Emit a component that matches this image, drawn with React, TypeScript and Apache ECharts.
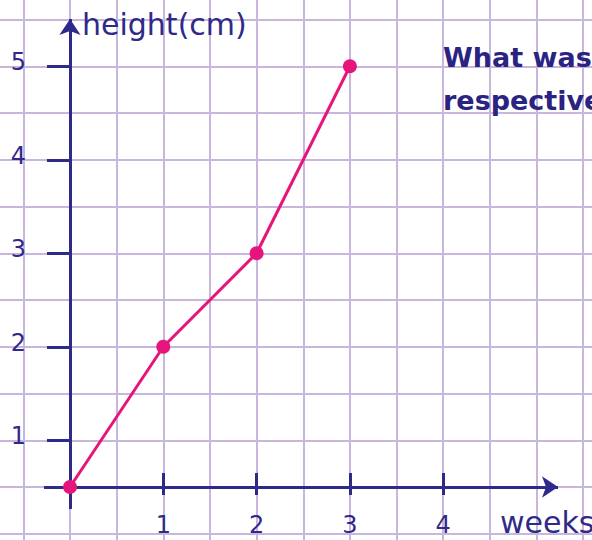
import React, { useEffect, useRef } from "react";
import * as echarts from "echarts";

// ---- data ----
const weeks = [0, 1, 2, 3];
const heights = [0.5, 2, 3, 5];
const xTickValues = [1, 2, 3, 4];
const yTickValues = [1, 2, 3, 4, 5];
const xAxisName = "weeks";
const yAxisName = "height(cm)";
const titleLines = ["What was", "respective"];

// ---- layout / style ----
const W = 592;
const H = 540;
const ORIGIN_X = 70; // pixel of x = 0
const X_UNIT = 93.3;
const Y_HALF_PX = 487; // pixel of y = 0.5 (where the x axis is drawn)
const Y_UNIT = 93.5;
const Y_ZERO_PX = Y_HALF_PX + 0.5 * Y_UNIT;
const X_AXIS_PX = 473; // top of the x tick marks

const xMin = -ORIGIN_X / X_UNIT;
const xMax = (W - ORIGIN_X) / X_UNIT;
const yMin = -(H - Y_ZERO_PX) / Y_UNIT;
const yMax = Y_ZERO_PX / Y_UNIT;
const px2x = (px: number) => (px - ORIGIN_X) / X_UNIT;
const px2y = (py: number) => (Y_ZERO_PX - py) / Y_UNIT;

const GRID = "#c9b6dd";
const AXIS = "#2f2a8a";
const TEXT = "#2f2a8a";
const TITLE = "#2a2382";
const MAGENTA = "#e6157b";
const FONT = "DejaVu Sans";

export default function App() {
  const ref = useRef<HTMLDivElement>(null);

  useEffect(() => {
    if (!ref.current) return;
    const chart = echarts.init(ref.current, undefined, { renderer: "svg" });

    const vLines: any[] = [];
    for (let i = -1; i <= 11; i++) vLines.push({ xAxis: i / 2 });
    const hLines: any[] = [];
    for (let i = 0; i <= 11; i++) hLines.push({ yAxis: i / 2 });

    const option: any = {
      animation: false,
      backgroundColor: "#ffffff",
      title: {
        text: titleLines.join("\n"),
        left: 443,
        top: 36,
        padding: 0,
        textStyle: {
          fontFamily: FONT,
          fontWeight: "bold",
          fontSize: 27,
          lineHeight: 43,
          color: TITLE,
        },
      },
      grid: {
        left: 0,
        right: 0,
        top: 0,
        bottom: 0,
        containLabel: false,
        outerBoundsMode: "none",
      },
      xAxis: {
        type: "value",
        z: 4,
        min: xMin,
        max: xMax,
        offset: -(H - X_AXIS_PX),
        axisLine: { show: false, onZero: false, lineStyle: { color: AXIS, width: 3 } },
        splitLine: { show: false },
        axisTick: {
          show: true,
          customValues: xTickValues,
          length: 22,
          lineStyle: { color: AXIS, width: 3 },
        },
        axisLabel: {
          show: true,
          customValues: xTickValues,
          margin: 40,
          fontSize: 24,
          fontFamily: FONT,
          color: TEXT,
        },
        name: xAxisName,
        nameLocation: "end",
        nameGap: -92,
        nameMoveOverlap: false,
        nameTextStyle: {
          fontFamily: FONT,
          fontSize: 30,
          color: TEXT,
          align: "left",
          verticalAlign: "top",
          lineHeight: 98,
        },
      },
      yAxis: {
        type: "value",
        z: 4,
        min: yMin,
        max: yMax,
        offset: -ORIGIN_X,
        axisLine: { show: false, onZero: false, lineStyle: { color: AXIS, width: 3 } },
        splitLine: { show: false },
        axisTick: {
          show: true,
          customValues: yTickValues,
          length: 23,
          lineStyle: { color: AXIS, width: 3 },
        },
        axisLabel: {
          show: true,
          customValues: yTickValues,
          margin: 44,
          fontSize: 24,
          fontFamily: FONT,
          color: TEXT,
          verticalAlign: "bottom",
          lineHeight: 8,
        },
        name: yAxisName,
        nameLocation: "end",
        nameGap: -24,
        nameMoveOverlap: false,
        nameTextStyle: {
          fontFamily: FONT,
          fontSize: 30,
          color: TEXT,
          align: "left",
          verticalAlign: "middle",
          padding: [0, 0, 0, 12],
        },
      },
      series: [
        {
          name: "grid",
          type: "line",
          data: [],
          silent: true,
          z: 1,
          markLine: {
            silent: true,
            z: 1,
            symbol: "none",
            label: { show: false },
            emphasis: { disabled: true },
            lineStyle: { color: GRID, width: 2, type: "solid" },
            data: [...vLines, ...hLines],
          },
        },
        {
          name: "axes",
          type: "line",
          data: [],
          silent: true,
          z: 3,
          markLine: {
            silent: true,
            z: 3,
            label: { show: false },
            emphasis: { disabled: true },
            lineStyle: { color: AXIS, width: 3, type: "solid" },
            data: [
              [
                { coord: [px2x(44), 0.5], symbol: "none" },
                { coord: [px2x(558), 0.5], symbol: "arrow", symbolSize: 16 },
              ],
              [
                { coord: [0, px2y(509)], symbol: "none" },
                { coord: [0, px2y(19)], symbol: "arrow", symbolSize: 16 },
              ],
            ],
          },
        },
        {
          name: "height",
          type: "line",
          z: 10,
          data: weeks.map((w, i) => [w, heights[i]]),
          symbol: "circle",
          symbolSize: 14,
          lineStyle: { color: MAGENTA, width: 3 },
          itemStyle: { color: MAGENTA },
        },
      ],
    };

    chart.setOption(option);
    return () => chart.dispose();
  }, []);

  return (
    <div
      ref={ref}
      style={{ position: "fixed", left: 0, top: 0, width: W, height: H, background: "#fff" }}
    />
  );
}
